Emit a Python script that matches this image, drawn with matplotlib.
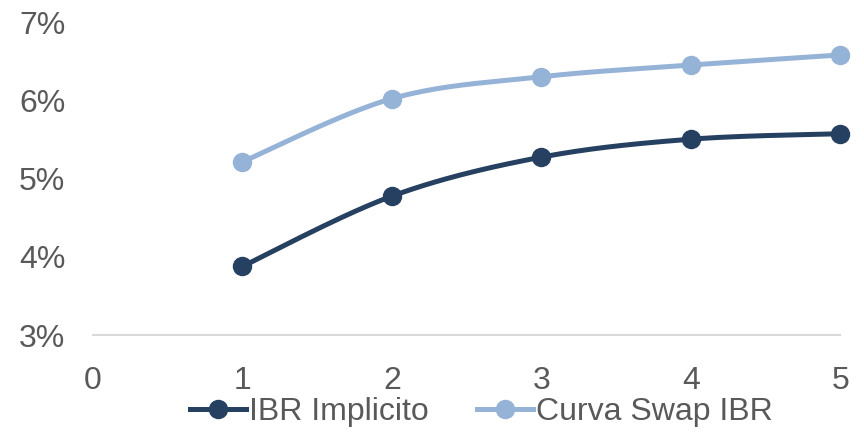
import numpy as np
import matplotlib.pyplot as plt
from matplotlib.lines import Line2D
from matplotlib.ticker import FuncFormatter

plt.rcParams['font.family'] = ['Liberation Sans', 'DejaVu Sans']

# data
years = [1, 2, 3, 4, 5]
ibr_implicito = [3.88, 4.78, 5.28, 5.51, 5.58]
curva_swap_ibr = [5.22, 6.03, 6.31, 6.46, 6.59]
series_names = ['IBR Implicito', 'Curva Swap IBR']
x_ticks = [0, 1, 2, 3, 4, 5]
y_ticks = [3, 4, 5, 6, 7]

dark = '#264061'
light = '#95B3D7'
grey_txt = '#595959'


def smooth(x, y, n=40):
    # Excel-like smoothed line (cardinal spline through the points)
    x = np.asarray(x, float)
    y = np.asarray(y, float)
    px = np.concatenate([[x[0]], x, [x[-1]]])
    py = np.concatenate([[y[0]], y, [y[-1]]])
    xs, ys = [], []
    t = np.linspace(0, 1, n)
    for i in range(1, len(px) - 2):
        p0, p1, p2, p3 = (np.array([px[j], py[j]]) for j in range(i - 1, i + 3))
        c1 = p1 + (p2 - p0) / 6
        c2 = p2 - (p3 - p1) / 6
        b = ((1 - t) ** 3)[:, None] * p1 + (3 * (1 - t) ** 2 * t)[:, None] * c1 \
            + (3 * (1 - t) * t ** 2)[:, None] * c2 + (t ** 3)[:, None] * p2
        xs.extend(b[:, 0])
        ys.extend(b[:, 1])
    return xs, ys


fig = plt.figure(figsize=(8.64, 4.33), dpi=100)
ax = fig.add_axes([0.1076, 0.2263, 0.865, 0.7207])

for vals, col in [(ibr_implicito, dark), (curva_swap_ibr, light)]:
    sx, sy = smooth(years, vals)
    ax.plot(sx, sy, color=col, lw=3.6, solid_capstyle='round', zorder=2)
    ax.plot(years, vals, 'o', color=col, ms=13, zorder=3)

ax.set_xlim(0, 5)
ax.set_ylim(3, 7)
ax.set_xticks(x_ticks)
ax.set_yticks(y_ticks)
ax.yaxis.set_major_formatter(FuncFormatter(lambda v, p: f'{v:.0f}%'))
ax.tick_params(length=0, labelsize=23, labelcolor=grey_txt)
ax.tick_params(axis='x', pad=22)
ax.tick_params(axis='y', pad=20)
for s in ['top', 'right', 'left']:
    ax.spines[s].set_visible(False)
ax.spines['bottom'].set_color('#D9D9D9')
ax.spines['bottom'].set_linewidth(1.5)
for l in ax.lines:
    l.set_clip_on(False)

handles = [Line2D([], [], color=dark, lw=3.6, marker='o', ms=13),
           Line2D([], [], color=light, lw=3.6, marker='o', ms=13)]
fig.legend(handles, series_names, loc='center', bbox_to_anchor=(0.557, 0.048),
           ncol=2, frameon=False, fontsize=23, labelcolor=grey_txt,
           handlelength=1.75, handletextpad=0.1, columnspacing=1.5)

fig.savefig('out.png', dpi=100)
